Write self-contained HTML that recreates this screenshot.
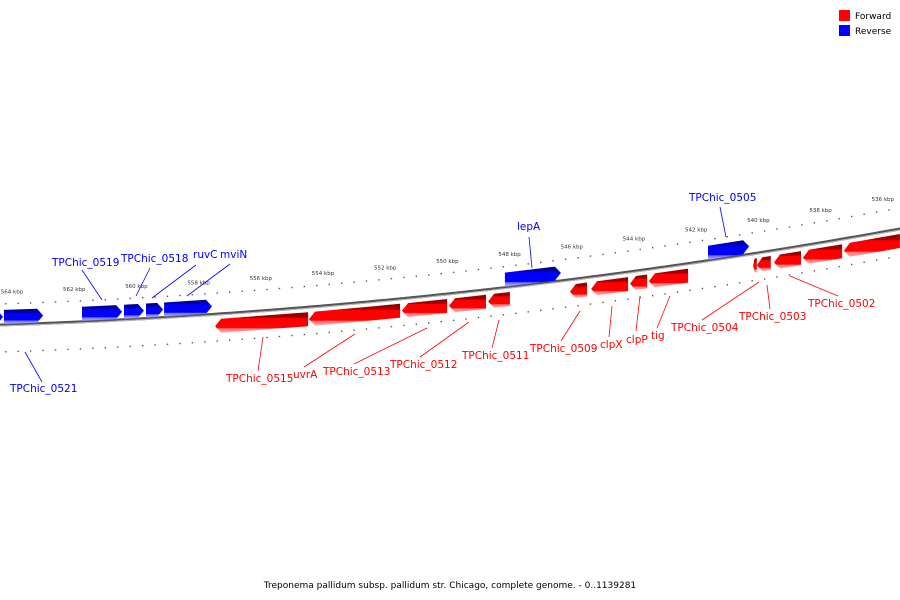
<!DOCTYPE html>
<html><head><meta charset="utf-8"><style>
body{margin:0;background:#fff}
svg{display:block;font-family:"DejaVu Sans","Liberation Sans",sans-serif}
</style></head><body>
<svg id="map" width="900" height="600" viewBox="0 0 900 600">
<defs>
<linearGradient id="gr" x1="0" y1="0" x2="0" y2="1"><stop offset="0" stop-color="#8a0000"/><stop offset="0.25" stop-color="#a00"/><stop offset="0.3" stop-color="#f00"/><stop offset="0.75" stop-color="#f00"/><stop offset="0.8" stop-color="#ff7070"/><stop offset="1" stop-color="#ffb0b0"/></linearGradient>
<linearGradient id="gb" x1="0" y1="0" x2="0" y2="1"><stop offset="0" stop-color="#00008a"/><stop offset="0.25" stop-color="#00a"/><stop offset="0.3" stop-color="#00f"/><stop offset="0.75" stop-color="#00f"/><stop offset="0.8" stop-color="#7070ff"/><stop offset="1" stop-color="#b0b0ff"/></linearGradient>
</defs>
<g id="layer"></g>
<rect x="839" y="10" width="11" height="11" fill="#f00"/>
<text x="855" y="19" font-size="9" fill="#000">Forward</text>
<rect x="839" y="25" width="11" height="11" fill="#00f"/>
<text x="855" y="34" font-size="9" fill="#000">Reverse</text>
<text x="450" y="588" font-size="9" text-anchor="middle" fill="#000">Treponema pallidum subsp. pallidum str. Chicago, complete genome. - 0..1139281</text>
</svg>
<script>
const fwdStarts=[557.47,554.45,551.46,549.95,548.69,546.06,545.38,544.13,543.52,540.17,540.05,539.50,538.57,537.25];
const fwdEnds=[554.48,551.52,550.01,548.76,547.99,545.51,544.19,543.58,542.26,540.05,539.60,538.63,537.31,535.45];
const revStarts=[564.75,564.26,561.75,560.40,559.69,559.11,548.15,541.62];
const revEnds=[564.29,563.0,560.46,559.76,559.14,557.57,546.35,540.30];
const tickLabels=[564,562,560,558,556,554,552,550,548,546,544,542,540,538,536];
const labelNames=["TPChic_0521","TPChic_0519","TPChic_0518","ruvC","mviN","lepA","TPChic_0505","TPChic_0515","uvrA","TPChic_0513","TPChic_0512","TPChic_0511","TPChic_0509","clpX","clpP","tig","TPChic_0504","TPChic_0503","TPChic_0502"];
const labelStrand=["r","r","r","r","r","r","r","f","f","f","f","f","f","f","f","f","f","f","f"];
const labelTextPos=[[10,392],[52,266],[121,262],[193,258],[220,258],[517,230],[689,201],[226,382],[293,378],[323,375],[390,368],[462,359],[530,352],[600,348],[626,343],[651,339],[671,331],[739,320],[808,307]];
const labelLines=[[25,352,42,382],[102,300,82,270],[136,296,150,268],[152,298,196,265],[187,296,230,264],[532,268,529,237],[726,237,720,207],[263,337,258,371],[355,334,304,367],[427,328,354,364],[469,322,420,357],[499,320,492,348],[580,311,561,341],[612,306,609,337],[640,296,636,331],[670,296,657,328],[759,282,702,320],[767,285,770,309],[790,276,838,296]];
const NS="http://www.w3.org/2000/svg";
const g=document.getElementById('layer');
function X(k){return 12+(564-k)*31.1;}
function Y(x){return 325-0.0323*x-8.27e-5*x*x;}
function mk(t,a,p){const e=document.createElementNS(NS,t);for(const k in a)e.setAttribute(k,a[k]);(p||g).appendChild(e);return e;}
// backbone
let d="";for(let x=-5;x<=905;x+=5){d+=(x==-5?"M":"L")+x+","+Y(x).toFixed(2);}
let bb=mk('path',{d:d,stroke:'#555',"stroke-width":3,fill:'none'});


let bb2=mk('path',{d:d,stroke:'#bbb',"stroke-width":1,fill:'none',transform:'translate(0,1)'});


// ticks
for(let k=565;k>=534;k-=0.4){
  const kk=Math.round(k*10)/10;const x=X(kk);if(x<-2||x>902)continue;
  const major=Math.abs(kk-Math.round(kk))<0.01 && Math.round(kk)%2==0;
  const y=Y(x);
  for(const off of [-21,27]){
    let t;
    if(major){t=mk('line',{x1:x,x2:x,y1:y+off-3,y2:y+off+3,stroke:'#000',"stroke-width":1.3});}
    else{t=mk('rect',{x:x-0.7,y:y+off-0.7,width:1.4,height:1.4,fill:'#555'});}
    
    
  }
}
tickLabels.forEach(k=>{const x=X(k);const t=mk('text',{x:x,y:Y(x)-31,"font-size":5.5,"text-anchor":"middle",fill:'#333'});t.textContent=k+" kbp";

});
function gene(s,e,strand){
  const x1=X(s),x2=X(e);
  const o1=strand=='f'?5:-15,o2=strand=='f'?19:-1;
  const a=Math.min(6,(x2-x1)*0.4),mid=(o1+o2)/2;
  let pts;
  if(strand=='f'){ // points left
    pts=[[x1+a,Y(x1+a)+o1],[x2,Y(x2)+o1],[x2,Y(x2)+o2],[x1+a,Y(x1+a)+o2],[x1,Y(x1)+mid]];
  }else{
    pts=[[x1,Y(x1)+o1],[x2-a,Y(x2-a)+o1],[x2,Y(x2)+mid],[x2-a,Y(x2-a)+o2],[x1,Y(x1)+o2]];
  }
  const p=mk('polygon',{points:pts.map(q=>q[0].toFixed(1)+","+q[1].toFixed(1)).join(" "),fill:strand=='f'?'url(#gr)':'url(#gb)'});
  
  
}
fwdStarts.forEach((s,i)=>gene(s,fwdEnds[i],'f'));
revStarts.forEach((s,i)=>gene(s,revEnds[i],'r'));
labelNames.forEach((n,i)=>{
  const c=labelStrand[i]=='f'?'#f00':'#00f';const l=labelLines[i];
  const ln=mk('line',{x1:l[0],y1:l[1],x2:l[2],y2:l[3],stroke:c,"stroke-width":0.8});
  
  
  const t=mk('text',{x:labelTextPos[i][0],y:labelTextPos[i][1],"font-size":10.5,fill:c});t.textContent=n;
  
  
});
</script>
</body></html>
